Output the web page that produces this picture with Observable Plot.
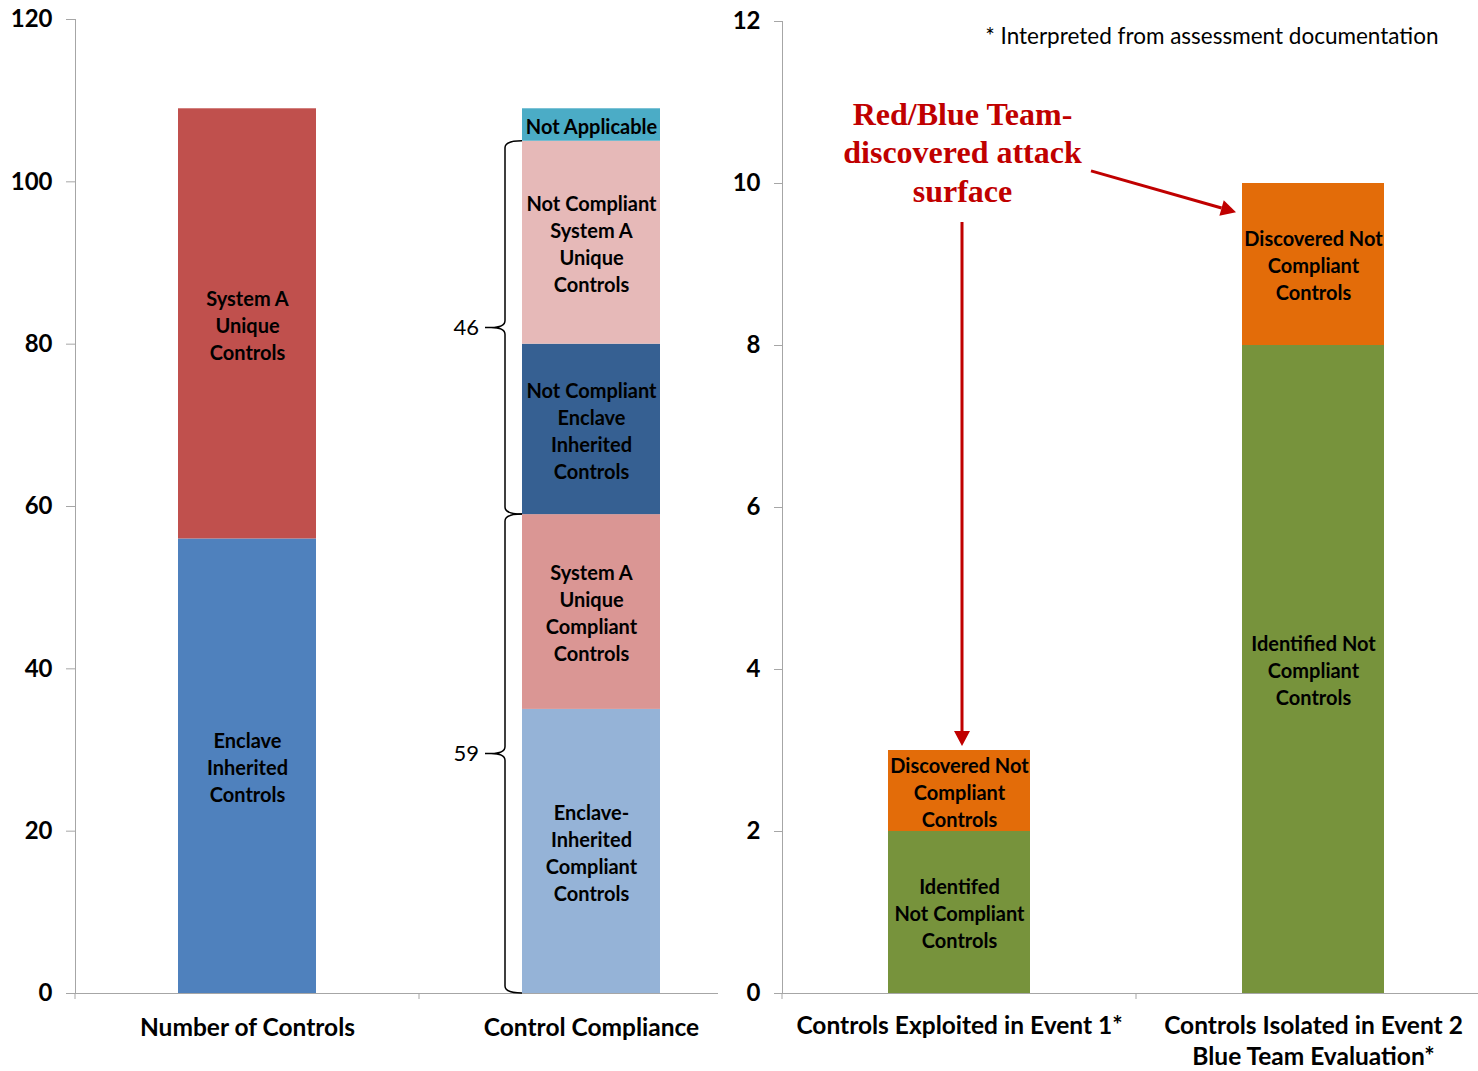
<!DOCTYPE html>
<html>
<head>
<meta charset="utf-8">
<script src="https://cdn.jsdelivr.net/npm/d3@7"></script>
<script src="https://cdn.jsdelivr.net/npm/@observablehq/plot@0.6"></script>
<style>
  html, body { margin: 0; padding: 0; background: #fff; }
  #wrap { position: relative; width: 1478px; height: 1071px; overflow: hidden; font-family: Lato, sans-serif; }
  #left { position: absolute; left: 0; top: 0; width: 718px; height: 1071px; overflow: hidden; }
  #right { position: absolute; left: 720px; top: 0; width: 758px; height: 1071px; overflow: hidden; }
  svg { display: block; max-width: none !important; }
</style>
</head>
<body>
<div id="wrap"><div id="left"></div><div id="right"></div></div>
<script>
// ---------- data ----------
const leftCategories = ["Number of Controls", "Control Compliance"];
const leftTicks = [0, 20, 40, 60, 80, 100, 120];

const countLabels = ["Enclave\nInherited\nControls", "System A\nUnique\nControls"];
const countValues = [56, 53];
const countColors = ["#4f81bd", "#c0504d"];

const complianceLabels = [
  "Enclave-\nInherited\nCompliant\nControls",
  "System A\nUnique\nCompliant\nControls",
  "Not Compliant\nEnclave\nInherited\nControls",
  "Not Compliant\nSystem A\nUnique\nControls",
  "Not Applicable"
];
const complianceValues = [35, 24, 21, 25, 4];
const complianceColors = ["#95b3d7", "#da9694", "#366092", "#e6b9b8", "#4bacc6"];

// brace groups over the compliance bar (compliant / not compliant)
const braceTotals = [59, 46];

const eventCategories = ["Controls Exploited in Event 1*", "Controls Isolated in Event 2\nBlue Team Evaluation*"];
const eventTicks = [0, 2, 4, 6, 8, 10, 12];
const identifiedLabels = ["Identifed\nNot Compliant\nControls", "Identified Not\nCompliant\nControls"];
const identifiedValues = [2, 8];
const discoveredLabels = ["Discovered Not\nCompliant\nControls", "Discovered Not\nCompliant\nControls"];
const discoveredValues = [1, 2];
const eventColors = ["#77933c", "#e36c09"];

const annotationText = "Red/Blue Team-\ndiscovered attack\nsurface";
const footnoteText = "* Interpreted from assessment documentation";

// ---------- helpers ----------
function stackRows(category, values, labels, colors) {
  let acc = 0;
  return values.map((v, i) => {
    const r = {category, y1: acc, y2: acc + v, label: labels[i], color: colors[i]};
    acc += v;
    return r;
  });
}
const AXIS_GRAY = "#a6a6a6";
const FONT = "Lato, 'Open Sans', sans-serif";
const LABEL_SIZE = 20;

function getScales(args) {
  if (args.length >= 4) return {scales: args[1], dims: args[3]};
  return {scales: args[0], dims: args[1]};
}

// ---------- left panel ----------
const leftRows = [
  ...stackRows(leftCategories[0], countValues, countLabels, countColors),
  ...stackRows(leftCategories[1], complianceValues, complianceLabels, complianceColors)
];

function leftOverlay(...args) {
  const {scales} = getScales(args);
  const x = scales.x, y = scales.y;
  const step = x.step(), bw = x.bandwidth();
  const g = d3.create("svg:g");
  const bounds = leftCategories.map(c => x(c) - (step - bw) / 2);
  bounds.push(bounds[bounds.length - 1] + step);
  g.selectAll("line.bt").data(bounds).join("line")
    .attr("x1", d => d).attr("x2", d => d)
    .attr("y1", y(0)).attr("y2", y(0) + 6)
    .attr("stroke", AXIS_GRAY);
  const barL = x(leftCategories[1]);
  const xv = barL - 17, xt = barL - 37, r = 7;
  let acc = 0;
  braceTotals.forEach(t => {
    const yb = y(acc), yt = y(acc + t), ym = (yb + yt) / 2;
    acc += t;
    const p = `M${barL},${yt} Q${xv},${yt} ${xv},${yt + r} L${xv},${ym - r} Q${xv},${ym} ${xt + 6},${ym} L${xt},${ym} L${xt + 6},${ym} Q${xv},${ym} ${xv},${ym + r} L${xv},${yb - r} Q${xv},${yb} ${barL},${yb}`;
    g.append("path").attr("d", p).attr("fill", "none").attr("stroke", "black").attr("stroke-width", 1.5);
    g.append("text").attr("x", xt - 6).attr("y", ym).attr("dy", "0.35em")
      .attr("text-anchor", "end").attr("font-size", 22).attr("font-weight", "normal")
      .attr("font-family", FONT).attr("fill", "black").text(String(t));
  });
  return g.node();
}

const left = Plot.plot({
  width: 763, height: 1071,
  marginLeft: 75, marginRight: 0, marginTop: 19, marginBottom: 78,
  style: {fontFamily: FONT, background: "transparent", color: "black", maxWidth: "none"},
  color: {type: "identity"},
  x: {domain: leftCategories, range: [75, 763], paddingInner: 0.6, paddingOuter: 0.3},
  y: {domain: [0, 120]},
  marks: [
    Plot.barY(leftRows, {x: "category", y1: "y1", y2: "y2", fill: "color"}),
    Plot.text(leftRows, {x: "category", y: d => (d.y1 + d.y2) / 2, text: "label", fontSize: LABEL_SIZE, fontWeight: "bold", lineHeight: 1.35, fill: "black"}),
    Plot.frame({anchor: "left", stroke: AXIS_GRAY}),
    Plot.ruleY([0], {stroke: AXIS_GRAY}),
    Plot.axisY({ticks: leftTicks, tickSize: 9, tickPadding: 14, stroke: AXIS_GRAY, fill: "black", fontSize: 24, fontWeight: "bold", tickFormat: d => String(d), label: null}),
    Plot.axisX({tickSize: 0, tickPadding: 25, fontSize: 24.5, fontWeight: "bold", fill: "black", label: null}),
    leftOverlay
  ]
});
document.getElementById("left").append(left);

// ---------- right panel ----------
const eventRows = [];
eventCategories.forEach((c, i) => {
  eventRows.push(...stackRows(c, [identifiedValues[i], discoveredValues[i]], [identifiedLabels[i], discoveredLabels[i]], eventColors));
});

function rightOverlay(...args) {
  const {scales} = getScales(args);
  const x = scales.x, y = scales.y;
  const step = x.step(), bw = x.bandwidth();
  const g = d3.create("svg:g");
  const bounds = eventCategories.map(c => x(c) - (step - bw) / 2);
  g.selectAll("line.bt").data(bounds).join("line")
    .attr("x1", d => d).attr("x2", d => d)
    .attr("y1", y(0)).attr("y2", y(0) + 6)
    .attr("stroke", AXIS_GRAY);
  const red = "#c00000";
  function arrow(x1, y1, x2, y2) {
    const a = Math.atan2(y2 - y1, x2 - x1), L = 15, W = 8;
    const bx = x2 - L * Math.cos(a), by = y2 - L * Math.sin(a);
    g.append("line").attr("x1", x1).attr("y1", y1).attr("x2", bx).attr("y2", by)
      .attr("stroke", red).attr("stroke-width", 3);
    g.append("path").attr("fill", red).attr("d",
      `M${x2},${y2} L${bx + W * Math.sin(a)},${by - W * Math.cos(a)} L${bx - W * Math.sin(a)},${by + W * Math.cos(a)} Z`);
  }
  const c1 = x(eventCategories[0]) + bw / 2 + 3;
  const top1 = identifiedValues[0] + discoveredValues[0];
  arrow(c1, y(9.52), c1, y(top1) - 4);
  const left2 = x(eventCategories[1]);
  arrow(c1 + 129, y(10.15), left2 - 6, y(9.64));
  return g.node();
}

const right = Plot.plot({
  width: 758, height: 1071,
  marginLeft: 62, marginRight: 0, marginTop: 21, marginBottom: 78,
  style: {fontFamily: FONT, background: "transparent", color: "black", maxWidth: "none"},
  color: {type: "identity"},
  x: {domain: eventCategories, range: [62, 770], paddingInner: 0.6, paddingOuter: 0.3},
  y: {domain: [0, 12]},
  marks: [
    Plot.barY(eventRows, {x: "category", y1: "y1", y2: "y2", fill: "color"}),
    Plot.text(eventRows, {x: "category", y: d => (d.y1 + d.y2) / 2, text: "label", fontSize: LABEL_SIZE, fontWeight: "bold", lineHeight: 1.35, fill: "black"}),
    Plot.frame({anchor: "left", stroke: AXIS_GRAY}),
    Plot.ruleY([0], {stroke: AXIS_GRAY}),
    Plot.axisY({ticks: eventTicks, tickSize: 8, tickPadding: 14, stroke: AXIS_GRAY, fill: "black", fontSize: 24, fontWeight: "bold", tickFormat: d => String(d), label: null}),
    Plot.axisX({tickSize: 0, tickPadding: 19, fontSize: 24.5, fontWeight: "bold", fill: "black", label: null, lineHeight: 1.25}),
    Plot.text([annotationText], {x: () => eventCategories[0], y: () => 10.4, text: d => d, dx: 3, fontSize: 32, fontWeight: "bold", fontFamily: "'Liberation Serif', 'Times New Roman', serif", fill: "#c00000", lineHeight: 1.2}),
    Plot.text([footnoteText], {frameAnchor: "top-right", text: d => d, dx: -40, dy: 7, fontSize: 22.5, fill: "black", lineAnchor: "top"}),
    rightOverlay
  ]
});
document.getElementById("right").append(right);
</script>
</body>
</html>
